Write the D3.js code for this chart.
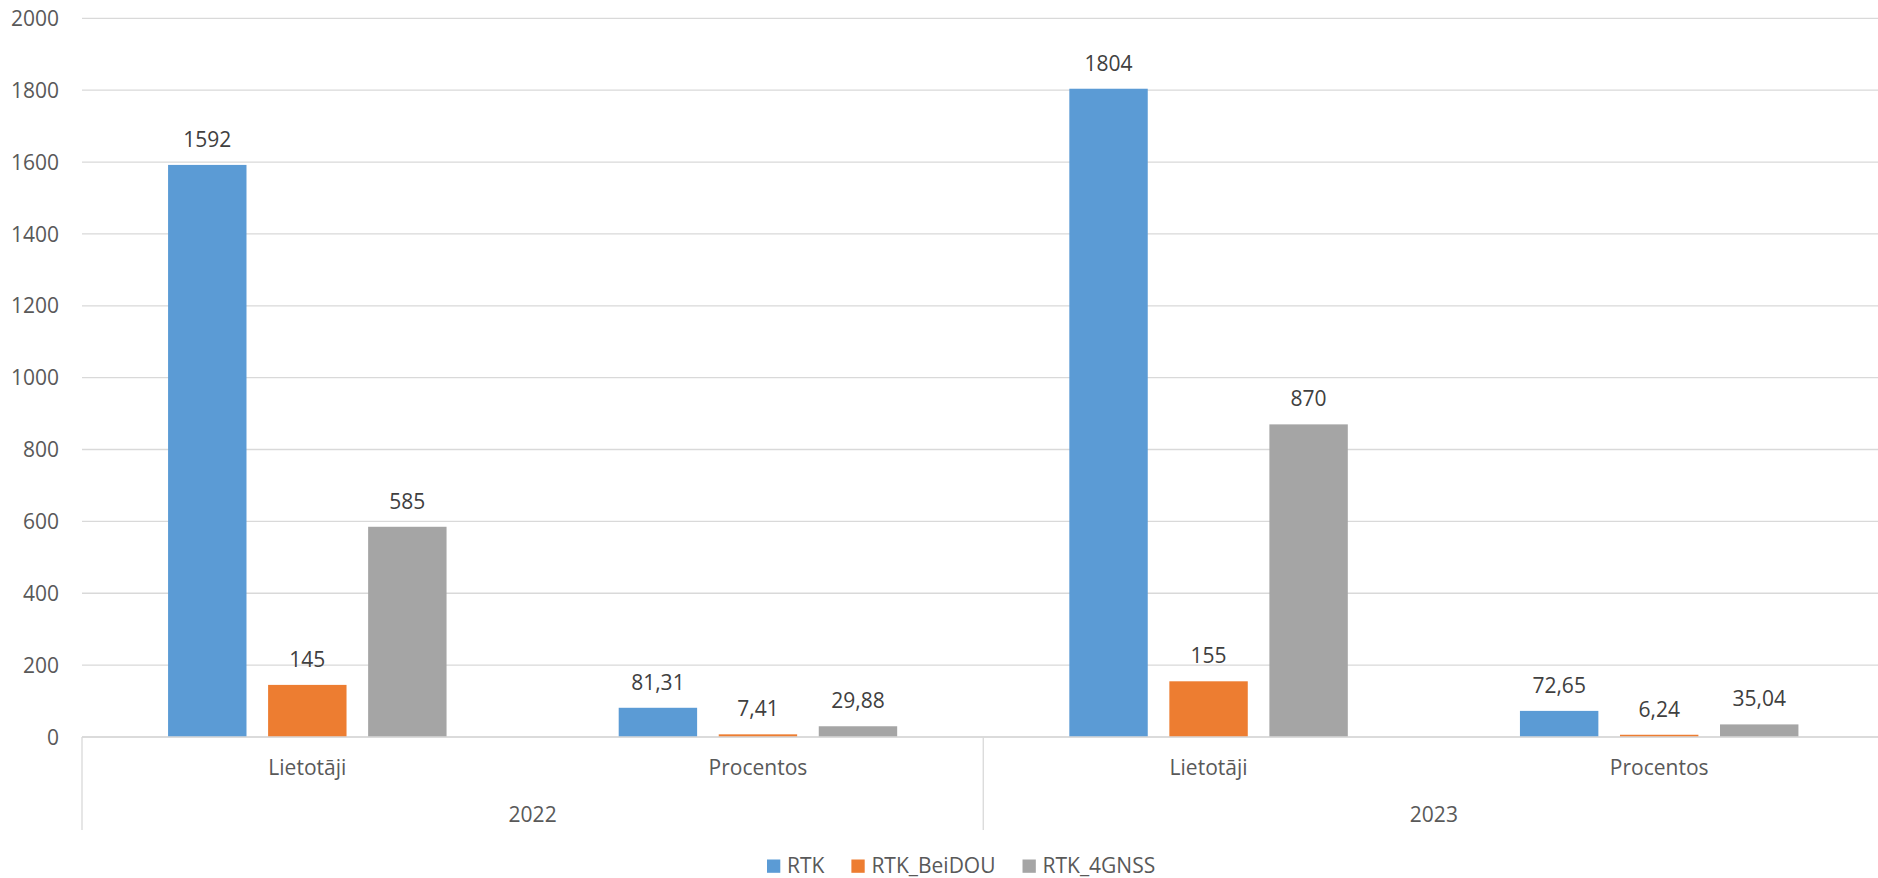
<!DOCTYPE html>
<html>
<head>
<meta charset="utf-8">
<script src="https://cdn.jsdelivr.net/npm/d3@7"></script>
<style>
  html, body { margin: 0; padding: 0; background: #fff; }
  svg { display: block; font-family: "Open Sans", "Noto Sans", sans-serif; }
</style>
</head>
<body>
<svg id="chart" width="1878" height="878"></svg>
<script>
// Inner categories (metric) grouped by year
const years = ["2022", "2023"];
const metrics = ["Lietotāji", "Procentos"];
const seriesNames = ["RTK", "RTK_BeiDOU", "RTK_4GNSS"];
const seriesColors = ["#5B9BD5", "#ED7D31", "#A5A5A5"];

// Values per series, in order: 2022 Lietotāji, 2022 Procentos, 2023 Lietotāji, 2023 Procentos
const rtk       = [1592, 81.31, 1804, 72.65];
const rtkBeidou = [145, 7.41, 155, 6.24];
const rtk4gnss  = [585, 29.88, 870, 35.04];

const yTicks = [0, 200, 400, 600, 800, 1000, 1200, 1400, 1600, 1800, 2000];

const categories = [];
years.forEach(y => metrics.forEach(m => categories.push({ year: y, metric: m, key: y + "|" + m })));
const seriesValues = [rtk, rtkBeidou, rtk4gnss];

const svg = d3.select("#chart");
const W = 1878, H = 878;

const plot = { left: 82, right: 1884.5, top: 18.3, bottom: 737 };

const x0 = d3.scaleBand()
  .domain(categories.map(c => c.key))
  .range([plot.left, plot.right])
  .padding(0);

const groupW = x0.bandwidth() * 0.618;
const x1 = d3.scaleBand()
  .domain(seriesNames)
  .range([0, groupW])
  .paddingInner(0.216)
  .paddingOuter(0);
const groupOffset = (x0.bandwidth() - groupW) / 2;

const y = d3.scaleLinear().domain([0, 2000]).range([plot.bottom, plot.top]);

const gridColor = "#D9D9D9";
const axisText = "#595959";
const labelText = "#404040";

// Horizontal gridlines
svg.append("g")
  .selectAll("line")
  .data(yTicks)
  .join("line")
  .attr("x1", plot.left)
  .attr("x2", W)
  .attr("y1", d => y(d))
  .attr("y2", d => y(d))
  .attr("stroke", gridColor)
  .attr("stroke-width", 1.3);

// Y axis tick labels
const yAxis = d3.axisLeft(y).tickValues(yTicks).tickSize(0).tickPadding(0).tickFormat(d3.format("d"));
const yAxisG = svg.append("g")
  .attr("transform", `translate(${plot.left - 23},0)`)
  .call(yAxis);
yAxisG.select(".domain").remove();
yAxisG.selectAll("text")
  .attr("fill", axisText)
  .style("font-size", "21px")
  .style("font-family", "\"Open Sans\", sans-serif")
  .attr("dy", "0.34em");

// Bars
const barData = [];
categories.forEach((c, i) => {
  seriesNames.forEach((s, j) => {
    barData.push({ cat: c.key, series: s, value: seriesValues[j][i], color: seriesColors[j] });
  });
});

svg.append("g")
  .selectAll("rect")
  .data(barData)
  .join("rect")
  .attr("x", d => x0(d.cat) + groupOffset + x1(d.series))
  .attr("y", d => y(d.value))
  .attr("width", x1.bandwidth())
  .attr("height", d => y(0) - y(d.value))
  .attr("fill", d => d.color);

// Data labels
const fmt = v => Number.isInteger(v) ? String(v) : d3.format(".2f")(v).replace(".", ",");
svg.append("g")
  .selectAll("text")
  .data(barData)
  .join("text")
  .attr("x", d => x0(d.cat) + groupOffset + x1(d.series) + x1.bandwidth() / 2)
  .attr("y", d => y(d.value) - 18)
  .attr("text-anchor", "middle")
  .attr("fill", labelText)
  .style("font-size", "21px")
  .text(d => fmt(d.value));

// Category axis: baseline, separators and two-level labels
const axisG = svg.append("g");
axisG.append("line")
  .attr("x1", plot.left).attr("x2", W)
  .attr("y1", y(0)).attr("y2", y(0))
  .attr("stroke", gridColor).attr("stroke-width", 1.3);

const yearEdges = years.map(yr => x0(yr + "|" + metrics[0]));
yearEdges.push(plot.right);
axisG.selectAll("line.sep")
  .data(yearEdges)
  .join("line")
  .attr("class", "sep")
  .attr("x1", d => d).attr("x2", d => d)
  .attr("y1", y(0)).attr("y2", 830)
  .attr("stroke", gridColor).attr("stroke-width", 1.3);

axisG.selectAll("text.metric")
  .data(categories)
  .join("text")
  .attr("class", "metric")
  .attr("x", d => x0(d.key) + x0.bandwidth() / 2)
  .attr("y", 775)
  .attr("text-anchor", "middle")
  .attr("fill", axisText)
  .style("font-size", "21px")
  .text(d => d.metric);

axisG.selectAll("text.year")
  .data(years)
  .join("text")
  .attr("class", "year")
  .attr("x", d => (x0(d + "|" + metrics[0]) + x0(d + "|" + metrics[metrics.length - 1]) + x0.bandwidth()) / 2)
  .attr("y", 822)
  .attr("text-anchor", "middle")
  .attr("fill", axisText)
  .style("font-size", "21px")
  .text(d => d);

// Legend
const legend = svg.append("g");
let lx = 767;
seriesNames.forEach((name, i) => {
  legend.append("rect")
    .attr("x", lx).attr("y", 859.5)
    .attr("width", 13.3).attr("height", 13.3)
    .attr("fill", seriesColors[i]);
  const t = legend.append("text")
    .attr("x", lx + 20)
    .attr("y", 873.3)
    .attr("fill", axisText)
    .style("font-size", "21px")
    .text(name);
  lx += 20 + t.node().getComputedTextLength() + 27;
});
</script>
</body>
</html>
